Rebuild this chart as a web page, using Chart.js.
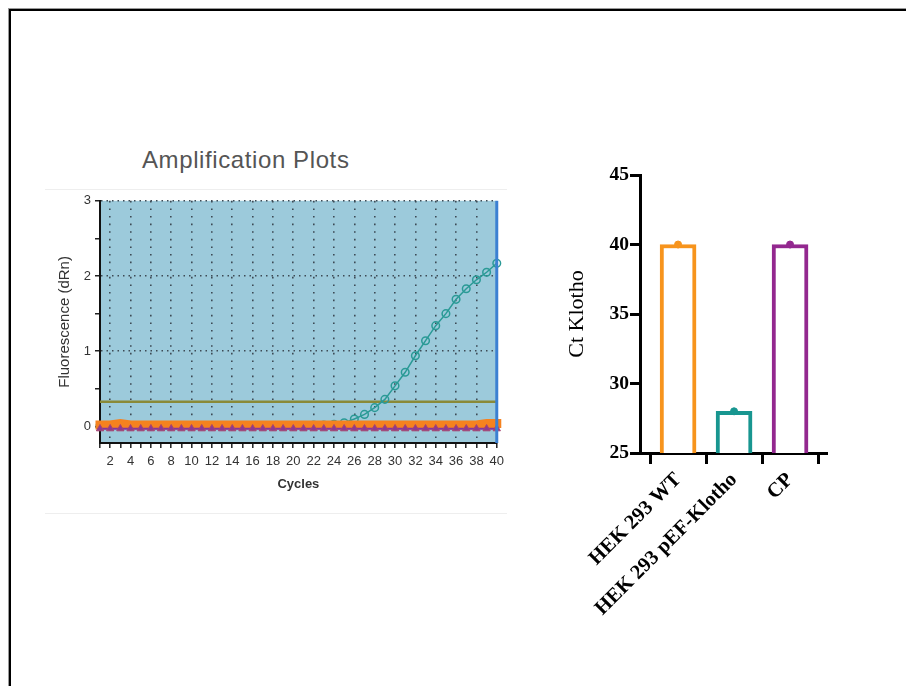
<!DOCTYPE html>
<html><head><meta charset="utf-8">
<script src="https://cdn.jsdelivr.net/npm/chart.js@4.4.1/dist/chart.umd.min.js"></script>
<style>
html,body{margin:0;padding:0;background:#fff;width:906px;height:686px;overflow:hidden;}
#frame{position:absolute;left:8px;top:8px;right:-5px;bottom:-5px;border-left:1px solid #9a9a9a;border-top:1px solid #9a9a9a;}
#frame2{position:absolute;left:9px;top:9px;right:-5px;bottom:-5px;border-left:2px solid #000;border-top:2px solid #000;}
#shot{position:absolute;left:45px;top:189px;width:462px;height:323px;border-top:1px solid #eeeeee;border-bottom:1px solid #eeeeee;}
#ampTitle{position:absolute;left:142px;top:146px;font:24px "Liberation Sans",Arial,sans-serif;letter-spacing:0.6px;color:#555;white-space:nowrap;}
#amp{position:absolute;left:45px;top:189px;}
#ct{position:absolute;left:560px;top:160px;}
</style></head>
<body>
<div id="frame"></div><div id="frame2"></div>
<div id="shot"></div>
<div id="ampTitle">Amplification Plots</div>
<canvas id="amp" width="465" height="326"></canvas>
<canvas id="ct" width="280" height="480"></canvas>
<script>
// ---------- Amplification plot data ----------
const cycles = [1,2,3,4,5,6,7,8,9,10,11,12,13,14,15,16,17,18,19,20,21,22,23,24,25,26,27,28,29,30,31,32,33,34,35,36,37,38,39,40];
const pefKlothoRn = [0.01,0.01,0.01,0.01,0.01,0.01,0.01,0.01,0.01,0.01,0.01,0.01,0.01,0.01,0.01,0.01,0.01,0.01,0.01,0.01,0.01,0.02,0.02,0.03,0.05,0.10,0.16,0.25,0.36,0.54,0.72,0.94,1.14,1.34,1.50,1.69,1.83,1.95,2.05,2.17];
const wtRn = [0.02,0.02,0.04,0.02,0.02,0.02,0.02,0.02,0.02,0.02,0.02,0.02,0.02,0.02,0.02,0.02,0.02,0.02,0.02,0.02,0.02,0.02,0.02,0.02,0.02,0.02,0.02,0.02,0.02,0.02,0.02,0.02,0.02,0.02,0.02,0.02,0.02,0.02,0.04,0.04];
const cpRn = [-0.03,-0.03,-0.03,-0.03,-0.03,-0.03,-0.03,-0.03,-0.03,-0.03,-0.03,-0.03,-0.03,-0.03,-0.03,-0.03,-0.03,-0.03,-0.03,-0.03,-0.03,-0.03,-0.03,-0.03,-0.03,-0.03,-0.03,-0.03,-0.03,-0.03,-0.03,-0.03,-0.03,-0.03,-0.03,-0.03,-0.03,-0.03,-0.03,-0.03];
const thresholdLevel = 0.33;
const ampYTicks = [0,0.5,1,1.5,2,2.5,3];
const ampYMin = -0.22, ampYMax = 3;
const ampXMin = 1, ampXMax = 40;

// ---------- Ct bar chart data ----------
const groups = ['HEK 293 WT','HEK 293 pEF-Klotho','CP'];
const ctMean = [40, 28, 40];
const ctPoints = [40, 28, 40];
const ctYTicks = [25,30,35,40,45];
const groupColors = ['#f7941d','#189690','#93288f'];

const sans = '"Liberation Sans", Arial, sans-serif';
const serif = '"Liberation Serif", "Times New Roman", serif';

const plotBg = {
  id:'plotBg',
  beforeDraw(chart, args, opts){
    if(!opts || !opts.color) return;
    const {ctx, chartArea:{left,top,right,bottom}} = chart;
    ctx.save(); ctx.fillStyle = opts.color; ctx.fillRect(left, top, right-left, bottom-top); ctx.restore();
  }
};

const pts = (xs, ys) => xs.map((x,i)=>({x:x, y:ys[i]}));

new Chart(document.getElementById('amp'), {
  type:'line',
  plugins:[plotBg],
  data:{ datasets:[
    { label:'edge', data:[{x:ampXMax,y:ampYMin},{x:ampXMax,y:ampYMax}], borderColor:'#3b80d2', borderWidth:3, pointRadius:0, order:0 },
    { label:'CP', data:pts(cycles,cpRn), borderColor:'#86359a', borderWidth:2, pointStyle:'triangle', pointRadius:4.2, pointBackgroundColor:'#8e3a8f', pointBorderColor:'#a8456e', pointBorderWidth:1, order:1 },
    { label:'HEK 293 WT', data:pts(cycles,wtRn), borderColor:'#f5821f', borderWidth:9, borderCapStyle:'square', pointRadius:0, order:2 },
    { label:'HEK 293 pEF-Klotho', data:pts(cycles,pefKlothoRn), borderColor:'#2a9a96', borderWidth:1.5, pointStyle:'circle', pointRadius:3.8, pointBorderWidth:1.5, pointBackgroundColor:'rgba(0,0,0,0)', pointBorderColor:'#2a9a96', order:3 },
    { label:'Threshold', data:[{x:ampXMin,y:thresholdLevel},{x:ampXMax,y:thresholdLevel}], borderColor:'#8a8a38', borderWidth:2.5, pointRadius:0, order:4 }
  ]},
  options:{
    responsive:false, animation:false, devicePixelRatio:1,
    layout:{padding:{top:10,right:12,left:0,bottom:0}},
    plugins:{ legend:{display:false}, tooltip:{enabled:false}, plotBg:{color:'#9ccadb'} },
    datasets:{ line:{ clip:false, tension:0 } },
    scales:{
      x:{ type:'linear', min:ampXMin, max:ampXMax,
        afterBuildTicks: s => { s.ticks = cycles.map(v=>({value:v})); },
        afterFit: s => { s.height = 72; },
        ticks:{ autoSkip:false, maxRotation:0, padding:6, color:'#333', font:{family:sans,size:13}, callback: v => (v%2===0 ? String(v) : '') },
        grid:{ color: c => (c.tick && c.tick.value%2===0 && c.tick.value<ampXMax) ? '#3d4a55' : 'rgba(0,0,0,0)', lineWidth:1.6, tickColor:'#222', tickLength:5, tickWidth:1.5 },
        border:{ display:true, color:'#111', width:2, dash:[1.6,6] },
        title:{ display:true, text:'Cycles', color:'#333', font:{family:sans,size:13,weight:'bold'}, padding:{top:0,bottom:23} }
      },
      y:{ min:ampYMin, max:ampYMax,
        afterBuildTicks: s => { s.ticks = ampYTicks.map(v=>({value:v})); },
        afterFit: s => { s.width = 55; },
        ticks:{ padding:4, color:'#333', font:{family:sans,size:13}, callback: v => (Number.isInteger(v) ? String(v) : '') },
        grid:{ color: c => (c.tick && Number.isInteger(c.tick.value) && c.tick.value>0) ? '#3d4a55' : 'rgba(0,0,0,0)', lineWidth:1.5, tickColor:'#222', tickLength:5, tickWidth:1.5 },
        border:{ display:true, color:'#111', width:2, dash:[1.5,4] },
        title:{ display:true, text:'Fluorescence (dRn)', color:'#333', font:{family:sans,size:15}, padding:{top:11,bottom:0} }
      }
    }
  }
});

new Chart(document.getElementById('ct'), {
  type:'bar',
  data:{ datasets:[
    { type:'scatter', label:'Ct', data:pts(groups.map((g,i)=>i), ctPoints), pointRadius:3.5, pointBackgroundColor:groupColors, pointBorderColor:groupColors, order:0 },
    { type:'bar', label:'Ct mean', data:pts(groups.map((g,i)=>i), ctMean), backgroundColor:'#ffffff', borderColor:groupColors, borderWidth:4, barThickness:36, order:1 }
  ]},
  options:{
    responsive:false, animation:false, devicePixelRatio:1,
    layout:{padding:{top:15,right:13,left:0,bottom:0}},
    plugins:{ legend:{display:false}, tooltip:{enabled:false} },
    scales:{
      x:{ type:'linear', min:-0.68, max:2.66, offset:false,
        afterBuildTicks: s => { s.ticks = groups.map((g,i)=>({value:i})); },
        afterFit: s => { s.height = 187; },
        ticks:{ autoSkip:false, minRotation:45, maxRotation:45, padding:4, color:'#000', font:{family:serif,size:20.5,weight:'bold'}, callback: v => groups[v] },
        grid:{ drawOnChartArea:false, drawTicks:true, tickLength:11, tickWidth:3, tickColor:'#000' },
        border:{ display:true, color:'#000', width:3 }
      },
      y:{ min:25, max:45,
        afterBuildTicks: s => { s.ticks = ctYTicks.map(v=>({value:v})); },
        afterFit: s => { s.width = 80; },
        ticks:{ padding:1, color:'#000', font:{family:serif,size:19.5,weight:'bold'} },
        grid:{ drawOnChartArea:false, drawTicks:true, tickLength:10, tickWidth:3, tickColor:'#000' },
        border:{ display:true, color:'#000', width:3 },
        title:{ display:true, text:'Ct Klotho', color:'#000', font:{family:serif,size:22}, padding:{top:4,bottom:0} }
      }
    }
  }
});
</script>
</body></html>
